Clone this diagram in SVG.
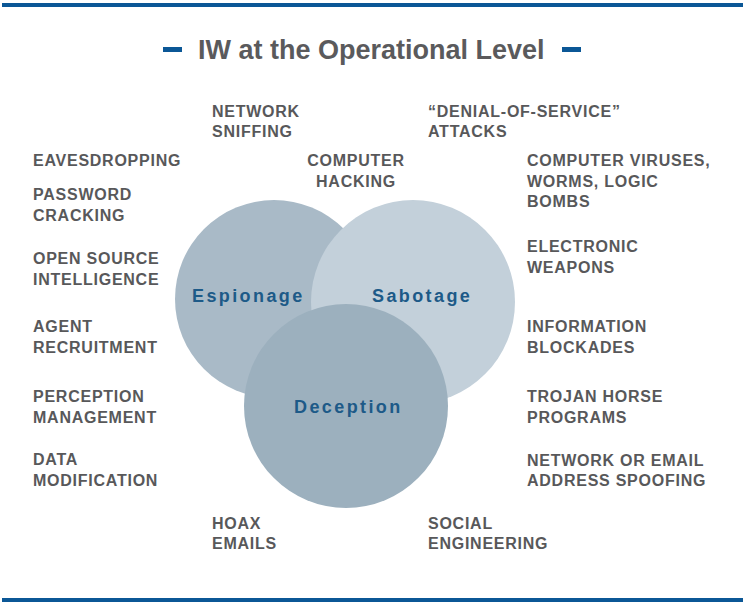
<svg xmlns="http://www.w3.org/2000/svg" width="745" height="608" viewBox="0 0 745 608">
<style>
.rule{fill:#0b5796}
.title{font-family:"Liberation Sans",Arial,sans-serif;font-weight:bold;font-size:27px;fill:#5a5a5c}
.lbl{font-family:"Liberation Sans",Arial,sans-serif;font-weight:bold;font-size:16px;letter-spacing:0.75px;fill:#58585a}
.cl{font-family:"Liberation Sans",Arial,sans-serif;font-weight:bold;font-size:18px;letter-spacing:2.4px;fill:#1d5a88}
</style>
<rect width="745" height="608" fill="#ffffff"/>
<rect class="rule" x="2" y="3" width="741" height="4"/>
<rect class="rule" x="2" y="598" width="741" height="4"/>
<g id="title">
<rect class="rule" x="163" y="47" width="19" height="5"/>
<text class="title" x="198" y="59">IW at the Operational Level</text>
<rect class="rule" x="562" y="47" width="19" height="5"/>
</g>
<g id="espionage">
<circle cx="274" cy="299" r="99" fill="#a9bac7"/>
</g>
<g id="sabotage">
<circle cx="413" cy="302" r="102" fill="#c3d0da"/>
</g>
<g id="deception">
<circle cx="346" cy="406" r="102" fill="#9cb0be"/>
</g>
<g id="circle-labels">
<text class="cl" x="192" y="302">Espionage</text>
<text class="cl" x="372" y="302">Sabotage</text>
<text class="cl" x="294" y="413">Deception</text>
</g>
<g id="connectors"></g>
<g id="left-labels">
<text class="lbl" x="33" y="166">EAVESDROPPING</text>
<text class="lbl" x="33" y="200">PASSWORD</text>
<text class="lbl" x="33" y="221">CRACKING</text>
<text class="lbl" x="33" y="264">OPEN SOURCE</text>
<text class="lbl" x="33" y="285">INTELLIGENCE</text>
<text class="lbl" x="33" y="332">AGENT</text>
<text class="lbl" x="33" y="353">RECRUITMENT</text>
<text class="lbl" x="33" y="402">PERCEPTION</text>
<text class="lbl" x="33" y="423">MANAGEMENT</text>
<text class="lbl" x="33" y="465">DATA</text>
<text class="lbl" x="33" y="486">MODIFICATION</text>
</g>
<g id="top-labels">
<text class="lbl" x="212" y="117">NETWORK</text>
<text class="lbl" x="212" y="137">SNIFFING</text>
<text class="lbl" x="428" y="117">“DENIAL-OF-SERVICE”</text>
<text class="lbl" x="428" y="137">ATTACKS</text>
<text class="lbl" x="356" y="166" text-anchor="middle">COMPUTER</text>
<text class="lbl" x="356" y="187" text-anchor="middle">HACKING</text>
</g>
<g id="right-labels">
<text class="lbl" x="527" y="166">COMPUTER VIRUSES,</text>
<text class="lbl" x="527" y="187">WORMS, LOGIC</text>
<text class="lbl" x="527" y="207">BOMBS</text>
<text class="lbl" x="527" y="252">ELECTRONIC</text>
<text class="lbl" x="527" y="273">WEAPONS</text>
<text class="lbl" x="527" y="332">INFORMATION</text>
<text class="lbl" x="527" y="353">BLOCKADES</text>
<text class="lbl" x="527" y="402">TROJAN HORSE</text>
<text class="lbl" x="527" y="423">PROGRAMS</text>
<text class="lbl" x="527" y="466">NETWORK OR EMAIL</text>
<text class="lbl" x="527" y="486">ADDRESS SPOOFING</text>
</g>
<g id="bottom-labels">
<text class="lbl" x="212" y="529">HOAX</text>
<text class="lbl" x="212" y="549">EMAILS</text>
<text class="lbl" x="428" y="529">SOCIAL</text>
<text class="lbl" x="428" y="549">ENGINEERING</text>
</g>
</svg>
